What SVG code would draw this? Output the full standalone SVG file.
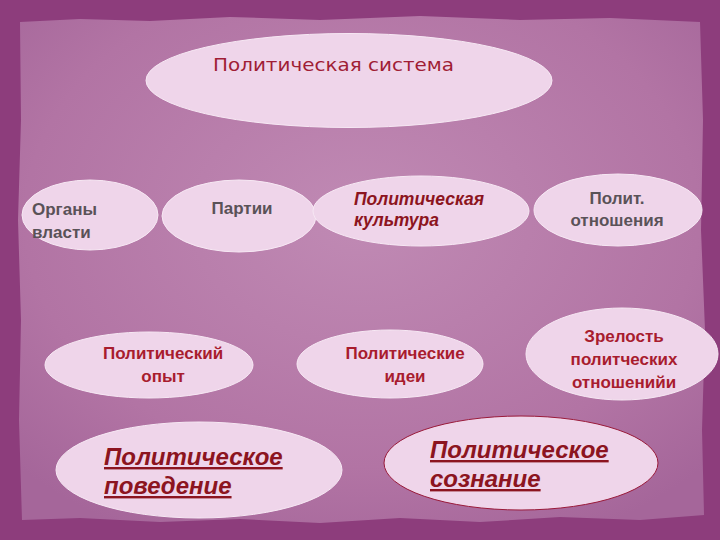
<svg xmlns="http://www.w3.org/2000/svg" width="720" height="540" viewBox="0 0 720 540">
<defs>
<radialGradient id="paper" cx="50%" cy="40%" r="70%">
<stop offset="0" stop-color="#c08ab4"/>
<stop offset="0.7" stop-color="#b274a4"/>
<stop offset="1" stop-color="#a5669a"/>
</radialGradient>
<style>
.el{fill:#efd5ea;stroke:#f7e8f4;stroke-width:1}
.gray{font-family:"Liberation Sans",Arial,sans-serif;font-weight:bold;font-size:17px;fill:#5a5258}
.red{font-family:"Liberation Sans",Arial,sans-serif;font-weight:bold;font-size:17px;fill:#a81c2e}
.ital{font-family:"Liberation Sans",Arial,sans-serif;font-weight:bold;font-style:italic;font-size:17.5px;fill:#8c1420}
.big{font-family:"Liberation Sans",Arial,sans-serif;font-weight:bold;font-style:italic;font-size:24px;fill:#8c1420;text-decoration:underline}
</style>
</defs>
<rect width="720" height="540" fill="#8d3d7c"/>
<path d="M20,22 L80,19 L150,21 L230,17 L320,20 L420,16 L520,20 L610,18 L700,22 L703,120 L701,230 L705,330 L702,430 L704,515 L640,520 L560,517 L480,522 L400,518 L320,523 L240,519 L160,522 L80,518 L22,520 L19,420 L21,320 L18,220 L21,120 Z" fill="url(#paper)"/>
<g id="connectors"/>
<g id="n-system">
<ellipse class="el" cx="349" cy="80.5" rx="203" ry="47"/>
<text x="213" y="71" font-family="DejaVu Sans,sans-serif" font-size="17" fill="#a01d35" textLength="241" lengthAdjust="spacingAndGlyphs">Политическая система</text>
</g>
<g id="n-organy">
<ellipse class="el" cx="90" cy="215" rx="68" ry="35"/>
<text class="gray" x="32" y="215">Органы</text>
<text class="gray" x="32" y="238">власти</text>
</g>
<g id="n-partii">
<ellipse class="el" cx="239" cy="216" rx="77" ry="36"/>
<text class="gray" x="242" y="214" text-anchor="middle">Партии</text>
</g>
<g id="n-kultura">
<ellipse class="el" cx="421" cy="211" rx="108" ry="35"/>
<text class="ital" x="354" y="205">Политическая</text>
<text class="ital" x="354" y="226">культура</text>
</g>
<g id="n-otnosh">
<ellipse class="el" cx="618" cy="210" rx="84" ry="36"/>
<text class="gray" x="617" y="204" text-anchor="middle">Полит.</text>
<text class="gray" x="617" y="226" text-anchor="middle">отношения</text>
</g>
<g id="n-opyt">
<ellipse class="el" cx="149" cy="365" rx="104" ry="33"/>
<text class="red" x="163" y="359" text-anchor="middle">Политический</text>
<text class="red" x="163" y="382" text-anchor="middle">опыт</text>
</g>
<g id="n-idei">
<ellipse class="el" cx="390" cy="364" rx="93" ry="34"/>
<text class="red" x="405" y="359" text-anchor="middle">Политические</text>
<text class="red" x="405" y="382" text-anchor="middle">идеи</text>
</g>
<g id="n-zrelost">
<ellipse class="el" cx="622" cy="354" rx="96" ry="46"/>
<text class="red" x="624" y="342" text-anchor="middle">Зрелость</text>
<text class="red" x="624" y="365" text-anchor="middle">политческих</text>
<text class="red" x="624" y="388" text-anchor="middle">отношенийи</text>
</g>
<g id="n-povedenie">
<ellipse class="el" cx="199" cy="470" rx="143" ry="48"/>
<text class="big" x="104" y="465">Политическое</text>
<text class="big" x="104" y="494">поведение</text>
</g>
<g id="n-soznanie">
<ellipse cx="521" cy="463" rx="137" ry="47" fill="#efd5ea" stroke="#9a1a3a" stroke-width="1"/>
<text class="big" x="430" y="458">Политическое</text>
<text class="big" x="430" y="487">сознание</text>
</g>
</svg>
